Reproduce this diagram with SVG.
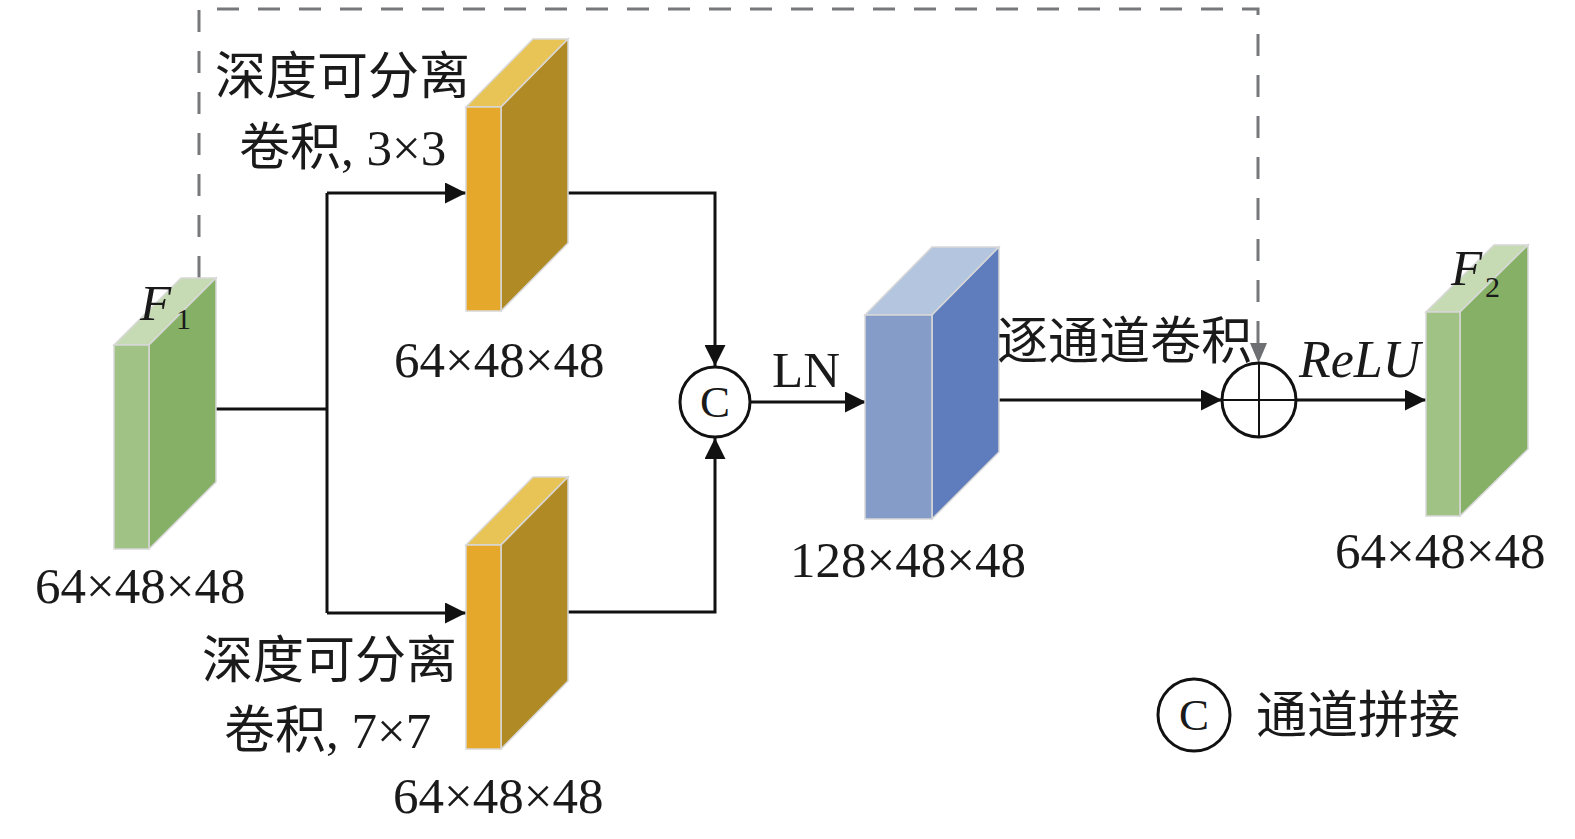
<svg xmlns="http://www.w3.org/2000/svg" width="1575" height="839" viewBox="0 0 1575 839">
<style>
.t{font-family:"Liberation Serif","Noto Sans CJK SC",serif;font-size:51px;fill:#1a1a1a}
.it{font-style:italic}
.ln{stroke:#111;stroke-width:3;fill:none}
.dash{stroke:#76787b;stroke-width:3;fill:none;stroke-dasharray:22 19}
.edge{stroke:#d8d8d8;stroke-width:1.5}
.gf{fill:#a0c284}.gs{fill:#87b067}.gt{fill:#c6dbb4}
.of{fill:#e5a82a}.os{fill:#b08a25}.ot{fill:#e8c457}
.bf{fill:#859cc9}.bs{fill:#5f7dbd}.bt{fill:#b4c5df}
.circ{fill:#fff;stroke:#111;stroke-width:3}
</style>
<defs>
<marker id="ah" markerWidth="21" markerHeight="21" refX="21" refY="10.5" orient="auto" markerUnits="userSpaceOnUse">
<path d="M0,0 L21,10.5 L0,21 Z" fill="#111"/>
</marker>
</defs>
<rect width="1575" height="839" fill="#fff"/>

<g id="connectors">
<path class="dash" d="M199,278 V9 H1258 V343"/>
<path d="M1250,343 L1267,343 L1258.5,363 Z" fill="#6d6f72"/>
<path class="ln" d="M216,409 H327"/>
<path class="ln" d="M327,193 V613"/>
<path class="ln" d="M327,193 H466" marker-end="url(#ah)"/>
<path class="ln" d="M327,613 H466" marker-end="url(#ah)"/>
<path class="ln" d="M568,193 H715 V366" marker-end="url(#ah)"/>
<path class="ln" d="M568,612 H715 V438" marker-end="url(#ah)"/>
<path class="ln" d="M750,402 H866" marker-end="url(#ah)"/>
<path class="ln" d="M999,400 H1222" marker-end="url(#ah)"/>
<path class="ln" d="M1296,400 H1426" marker-end="url(#ah)"/>
</g>

<g id="F1">
<polygon class="gt edge" points="114,345 149,345 216,278 181,278"/>
<polygon class="gs edge" points="149,345 216,278 216,482 149,549"/>
<rect class="gf edge" x="114" y="345" width="35" height="204"/>
<text class="t it" x="140" y="320">F</text>
<text class="t" x="176" y="329" style="font-size:30px">1</text>
<text class="t" x="35" y="603">64×48×48</text>
</g>

<g id="dwconv3">
<polygon class="ot edge" points="466,107 501,107 568,39 533,39"/>
<polygon class="os edge" points="501,107 568,39 568,243 501,311"/>
<rect class="of edge" x="466" y="107" width="35" height="204"/>
<text class="t" x="215" y="94">深度可分离</text>
<text class="t" x="239" y="165">卷积, 3×3</text>
<text class="t" x="394" y="377">64×48×48</text>
</g>

<g id="dwconv7">
<polygon class="ot edge" points="466,545 501,545 568,477 533,477"/>
<polygon class="os edge" points="501,545 568,477 568,681 501,749"/>
<rect class="of edge" x="466" y="545" width="35" height="204"/>
<text class="t" x="202" y="678">深度可分离</text>
<text class="t" x="224" y="748">卷积, 7×7</text>
<text class="t" x="393" y="813">64×48×48</text>
</g>

<g id="concat">
<circle class="circ" cx="715" cy="402" r="35"/>
<text class="t" x="715" y="417" text-anchor="middle" style="font-size:45px">C</text>
<text class="t" x="772" y="387">LN</text>
</g>

<g id="ln-block">
<polygon class="bt edge" points="865,315 932,315 999,247 932,247"/>
<polygon class="bs edge" points="932,315 999,247 999,452 932,519"/>
<rect class="bf edge" x="865" y="315" width="67" height="204"/>
<text class="t" x="790" y="577">128×48×48</text>
<text class="t" x="997" y="359">逐通道卷积</text>
</g>

<g id="add">
<circle class="circ" cx="1259" cy="400" r="37"/>
<path d="M1222,400 H1296 M1259,363 V437" stroke="#111" stroke-width="2"/>
<text class="t it" x="1299" y="377" style="font-size:52px">ReLU</text>
</g>

<g id="F2">
<polygon class="gt edge" points="1426,312 1460,312 1528,245 1494,245"/>
<polygon class="gs edge" points="1460,312 1528,245 1528,449 1460,516"/>
<rect class="gf edge" x="1426" y="312" width="34" height="204"/>
<text class="t it" x="1451" y="285">F</text>
<text class="t" x="1485" y="297" style="font-size:30px">2</text>
<text class="t" x="1335" y="568">64×48×48</text>
</g>

<g id="legend">
<circle class="circ" cx="1194" cy="715" r="36"/>
<text class="t" x="1194" y="730" text-anchor="middle" style="font-size:45px">C</text>
<text class="t" x="1256" y="733">通道拼接</text>
</g>
</svg>
